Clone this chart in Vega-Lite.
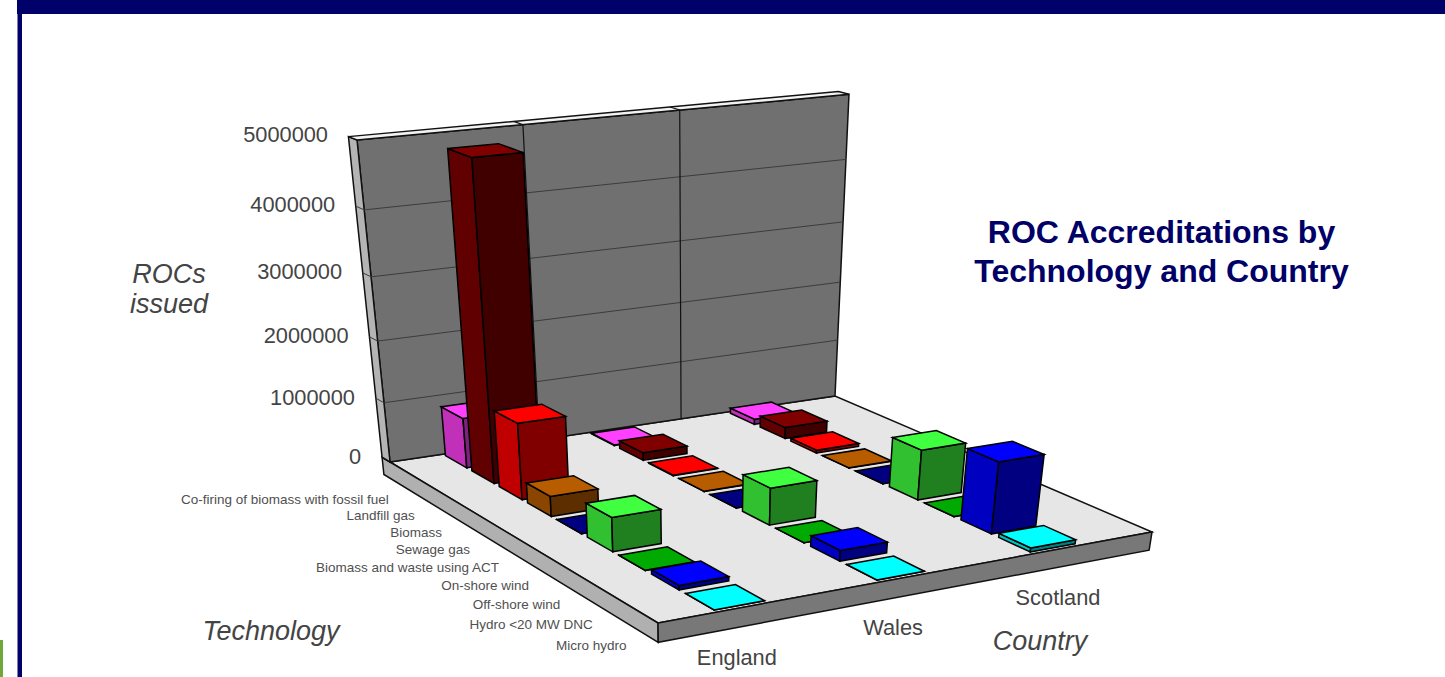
{
"$schema":"https://vega.github.io/schema/vega-lite/v6.json",
"width":1445,"height":677,"autosize":"none","padding":0,"background":"white",
"config":{"view":{"stroke":null}},
"title":{"text":["ROC Accreditations by","Technology and Country"],"font":"Liberation Sans","fontSize":32,"fontWeight":"bold","color":"#000066","anchor":"middle","frame":"group","dx":439,"dy":314,"lineHeight":39,"baseline":"alphabetic","offset":0},
"datasets":{
"bars":[
{"technology":"Co-firing of biomass with fossil fuel","country":"England","rocs":830000},
{"technology":"Co-firing of biomass with fossil fuel","country":"Wales","rocs":10000},
{"technology":"Co-firing of biomass with fossil fuel","country":"Scotland","rocs":90000},
{"technology":"Landfill gas","country":"England","rocs":4970000},
{"technology":"Landfill gas","country":"Wales","rocs":130000},
{"technology":"Landfill gas","country":"Scotland","rocs":190000},
{"technology":"Biomass","country":"England","rocs":1245000},
{"technology":"Biomass","country":"Wales","rocs":10000},
{"technology":"Biomass","country":"Scotland","rocs":50000},
{"technology":"Sewage gas","country":"England","rocs":328000},
{"technology":"Sewage gas","country":"Wales","rocs":5000},
{"technology":"Sewage gas","country":"Scotland","rocs":5000},
{"technology":"Biomass and waste using ACT","country":"England","rocs":2000},
{"technology":"Biomass and waste using ACT","country":"Wales","rocs":2000},
{"technology":"Biomass and waste using ACT","country":"Scotland","rocs":2000},
{"technology":"On-shore wind","country":"England","rocs":547000},
{"technology":"On-shore wind","country":"Wales","rocs":600000},
{"technology":"On-shore wind","country":"Scotland","rocs":820000},
{"technology":"Off-shore wind","country":"England","rocs":2000},
{"technology":"Off-shore wind","country":"Wales","rocs":2000},
{"technology":"Off-shore wind","country":"Scotland","rocs":2000},
{"technology":"Hydro <20 MW DNC","country":"England","rocs":70000},
{"technology":"Hydro <20 MW DNC","country":"Wales","rocs":170000},
{"technology":"Hydro <20 MW DNC","country":"Scotland","rocs":1150000},
{"technology":"Micro hydro","country":"England","rocs":3000},
{"technology":"Micro hydro","country":"Wales","rocs":3000},
{"technology":"Micro hydro","country":"Scotland","rocs":65000}
],
"surfaces":[{"surface":"floor"},{"surface":"slabLeft"},{"surface":"slabFront"},{"surface":"backWall"},{"surface":"wallEdge"},{"surface":"wallTop"}],
"valueTicks":[{"rocs":0},{"rocs":1000000},{"rocs":2000000},{"rocs":3000000},{"rocs":4000000},{"rocs":5000000}],
"countries":[{"country":"England"},{"country":"Wales"},{"country":"Scotland"}],
"technologies":[{"technology":"Co-firing of biomass with fossil fuel"},{"technology":"Landfill gas"},{"technology":"Biomass"},{"technology":"Sewage gas"},{"technology":"Biomass and waste using ACT"},{"technology":"On-shore wind"},{"technology":"Off-shore wind"},{"technology":"Hydro <20 MW DNC"},{"technology":"Micro hydro"}],
"axisTitles":[{"label":"Technology"},{"label":"Country"},{"label":"ROCs\nissued"}],
"frame":[{"part":"frame"}]
},
"layer":[
{"data":{"name":"frame"},"mark":{"type":"rect","color":"#00006b"},"encoding":{
"x":{"datum":17,"type":"quantitative","scale":{"domain":[0,1445],"range":[0,1445]},"axis":null},"x2":{"datum":1445},
"y":{"datum":0,"type":"quantitative","scale":{"domain":[0,677],"range":[0,677]},"axis":null},"y2":{"datum":14}}},
{"data":{"name":"frame"},"mark":{"type":"rect","color":"#00006b"},"encoding":{
"x":{"datum":17.5,"type":"quantitative","scale":{"domain":[0,1445],"range":[0,1445]},"axis":null},"x2":{"datum":22},
"y":{"datum":0,"type":"quantitative","scale":{"domain":[0,677],"range":[0,677]},"axis":null},"y2":{"datum":677}}},
{"data":{"name":"frame"},"mark":{"type":"rect","color":"#6fa83a"},"encoding":{
"x":{"datum":0,"type":"quantitative","scale":{"domain":[0,1445],"range":[0,1445]},"axis":null},"x2":{"datum":3},
"y":{"datum":640,"type":"quantitative","scale":{"domain":[0,677],"range":[0,677]},"axis":null},"y2":{"datum":677}}},
{"data":{"name":"surfaces"},
"transform":[
{"calculate":"[0,1,2,3]","as":"vertices"},{"flatten":["vertices"],"as":["vertex"]},
{"calculate":"{floor:[[0,0,0],[1,0,0],[1,1,0],[0,1,0]],backWall:[[0,0,0],[1,0,0],[1,0,1],[0,0,1]],wallEdge:[[0,-0.035,0],[0,0,0],[0,0,1],[0,-0.035,1]],wallTop:[[0,-0.035,1],[1,-0.035,1],[1,0,1],[0,0,1]],slabFront:[[0,1,0],[1,1,0],[1,1,-0.06],[0,1,-0.06]],slabLeft:[[0,-0.035,0],[0,1,0],[0,1,-0.06],[0,-0.035,-0.06]]}[datum.surface][datum.vertex]","as":"corner"},
{"calculate":"datum.corner[0]","as":"u"},{"calculate":"datum.corner[1]","as":"v"},{"calculate":"datum.corner[2]","as":"w"},
{"calculate":"1+0.08217*datum.u-0.15192*datum.v-0.09787*datum.w","as":"d"},
{"calculate":"(390+513.61*datum.u+168.04*datum.v-67.94*datum.w)/datum.d","as":"px"},
{"calculate":"(462-33.46*datum.u+66.35*datum.v-335.7*datum.w)/datum.d","as":"py"}
],
"mark":{"type":"line","interpolate":"linear-closed","stroke":"#111111","strokeWidth":1.5},
"encoding":{
"x":{"field":"px","type":"quantitative","scale":{"domain":[0,1445],"range":[0,1445]},"axis":null},
"y":{"field":"py","type":"quantitative","scale":{"domain":[0,677],"range":[0,677]},"axis":null},
"order":{"field":"vertex","type":"quantitative"},
"detail":{"field":"surface"},
"fill":{"field":"surface","type":"nominal","legend":null,"scale":{"domain":["floor","slabLeft","slabFront","backWall","wallEdge","wallTop"],"range":["#e6e6e6","#b0b0b0","#787878","#707070","#b4b4b4","#f2f2f2"]}}
}},
{"data":{"name":"valueTicks"},
"transform":[
{"filter":"datum.rocs>0 && datum.rocs<5000000"},
{"calculate":"[0,1,2]","as":"vertices"},{"flatten":["vertices"],"as":["vertex"]},
{"calculate":"datum.vertex==2?1:0","as":"u"},{"calculate":"datum.vertex==0?-0.035:0","as":"v"},{"calculate":"datum.rocs/5000000","as":"w"},
{"calculate":"1+0.08217*datum.u-0.15192*datum.v-0.09787*datum.w","as":"d"},
{"calculate":"(390+513.61*datum.u+168.04*datum.v-67.94*datum.w)/datum.d","as":"px"},
{"calculate":"(462-33.46*datum.u+66.35*datum.v-335.7*datum.w)/datum.d","as":"py"}
],
"mark":{"type":"line","stroke":"#3c3c3c","strokeWidth":1},
"encoding":{
"x":{"field":"px","type":"quantitative","scale":{"domain":[0,1445],"range":[0,1445]},"axis":null},
"y":{"field":"py","type":"quantitative","scale":{"domain":[0,677],"range":[0,677]},"axis":null},
"order":{"field":"vertex","type":"quantitative"},
"detail":{"field":"rocs"}
}},
{"data":{"name":"countries"},
"transform":[
{"filter":"datum.country!='Scotland'"},
{"calculate":"0.318*(indexof(['England','Wales','Scotland'],datum.country)+1)","as":"u"},
{"calculate":"[0,1,2]","as":"vertices"},{"flatten":["vertices"],"as":["vertex"]},
{"calculate":"datum.vertex==2?-0.035:0","as":"v"},{"calculate":"datum.vertex==0?0:1","as":"w"},
{"calculate":"1+0.08217*datum.u-0.15192*datum.v-0.09787*datum.w","as":"d"},
{"calculate":"(390+513.61*datum.u+168.04*datum.v-67.94*datum.w)/datum.d","as":"px"},
{"calculate":"(462-33.46*datum.u+66.35*datum.v-335.7*datum.w)/datum.d","as":"py"}
],
"mark":{"type":"line","stroke":"#111111","strokeWidth":1.2},
"encoding":{
"x":{"field":"px","type":"quantitative","scale":{"domain":[0,1445],"range":[0,1445]},"axis":null},
"y":{"field":"py","type":"quantitative","scale":{"domain":[0,677],"range":[0,677]},"axis":null},
"order":{"field":"vertex","type":"quantitative"},
"detail":{"field":"country"}
}},
{"data":{"name":"bars"},
"transform":[
{"calculate":"indexof(['Co-firing of biomass with fossil fuel','Landfill gas','Biomass','Sewage gas','Biomass and waste using ACT','On-shore wind','Off-shore wind','Hydro <20 MW DNC','Micro hydro'],datum.technology)","as":"techIndex"},
{"calculate":"indexof(['England','Wales','Scotland'],datum.country)","as":"countryIndex"},
{"calculate":"['left','front','top']","as":"faces"},{"flatten":["faces"],"as":["face"]},
{"calculate":"[0,1,2,3]","as":"vertices"},{"flatten":["vertices"],"as":["vertex"]},
{"calculate":"{left:[[-1,-1,0],[-1,1,0],[-1,1,1],[-1,-1,1]],front:[[-1,1,0],[1,1,0],[1,1,1],[-1,1,1]],top:[[-1,-1,1],[1,-1,1],[1,1,1],[-1,1,1]]}[datum.face][datum.vertex]","as":"corner"},
{"calculate":"0.159+0.3165*datum.countryIndex+0.048*datum.corner[0]","as":"u"},
{"calculate":"(datum.techIndex+0.5)/9+0.045*datum.corner[1]","as":"v"},
{"calculate":"datum.corner[2]*datum.rocs/5000000","as":"w"},
{"calculate":"datum.technology+'|'+datum.country+'|'+datum.face","as":"polygon"},
{"calculate":"datum.technology+'|'+datum.face","as":"faceKey"},
{"calculate":"1+0.08217*datum.u-0.15192*datum.v-0.09787*datum.w","as":"d"},
{"calculate":"(390+513.61*datum.u+168.04*datum.v-67.94*datum.w)/datum.d","as":"px"},
{"calculate":"(462-33.46*datum.u+66.35*datum.v-335.7*datum.w)/datum.d","as":"py"}
],
"mark":{"type":"line","interpolate":"linear-closed","stroke":"#000000","strokeWidth":1.5},
"encoding":{
"x":{"field":"px","type":"quantitative","scale":{"domain":[0,1445],"range":[0,1445]},"axis":null},
"y":{"field":"py","type":"quantitative","scale":{"domain":[0,677],"range":[0,677]},"axis":null},
"order":{"field":"vertex","type":"quantitative"},
"detail":{"field":"polygon"},
"fill":{"field":"faceKey","type":"nominal","legend":null,"scale":{
"domain":["Co-firing of biomass with fossil fuel|top","Co-firing of biomass with fossil fuel|left","Co-firing of biomass with fossil fuel|front","Landfill gas|top","Landfill gas|left","Landfill gas|front","Biomass|top","Biomass|left","Biomass|front","Sewage gas|top","Sewage gas|left","Sewage gas|front","Biomass and waste using ACT|top","Biomass and waste using ACT|left","Biomass and waste using ACT|front","On-shore wind|top","On-shore wind|left","On-shore wind|front","Off-shore wind|top","Off-shore wind|left","Off-shore wind|front","Hydro <20 MW DNC|top","Hydro <20 MW DNC|left","Hydro <20 MW DNC|front","Micro hydro|top","Micro hydro|left","Micro hydro|front"],
"range":["#ff40ff","#c030b8","#802080","#800000","#600000","#400000","#ff0000","#c00000","#800000","#b85c00","#8a4500","#5c2e00","#000080","#000060","#000040","#40ff40","#30c030","#208020","#00aa00","#008000","#005500","#0000ff","#0000c0","#000080","#00ffff","#00c0c0","#008080"]}}
}},
{"data":{"name":"valueTicks"},
"transform":[
{"calculate":"0","as":"u"},{"calculate":"0","as":"v"},{"calculate":"datum.rocs/5000000","as":"w"},
{"calculate":"1+0.08217*datum.u-0.15192*datum.v-0.09787*datum.w","as":"d"},
{"calculate":"(390+513.61*datum.u+168.04*datum.v-67.94*datum.w)/datum.d","as":"px"},
{"calculate":"(462-33.46*datum.u+66.35*datum.v-335.7*datum.w)/datum.d","as":"py"}
],
"mark":{"type":"text","font":"Liberation Sans","fontSize":21.8,"color":"#444444","align":"right","baseline":"middle","dx":-29,"dy":-5},
"encoding":{
"x":{"field":"px","type":"quantitative","scale":{"domain":[0,1445],"range":[0,1445]},"axis":null},
"y":{"field":"py","type":"quantitative","scale":{"domain":[0,677],"range":[0,677]},"axis":null},
"text":{"field":"rocs","type":"quantitative","format":"d"}
}},
{"data":{"name":"technologies"},
"transform":[
{"calculate":"indexof(['Co-firing of biomass with fossil fuel','Landfill gas','Biomass','Sewage gas','Biomass and waste using ACT','On-shore wind','Off-shore wind','Hydro <20 MW DNC','Micro hydro'],datum.technology)","as":"techIndex"},
{"calculate":"0","as":"u"},{"calculate":"(datum.techIndex+0.5)/9","as":"v"},{"calculate":"0","as":"w"},
{"calculate":"1+0.08217*datum.u-0.15192*datum.v-0.09787*datum.w","as":"d"},
{"calculate":"(390+513.61*datum.u+168.04*datum.v-67.94*datum.w)/datum.d","as":"px"},
{"calculate":"(462-33.46*datum.u+66.35*datum.v-335.7*datum.w)/datum.d+datum.techIndex*0.35","as":"py"}
],
"mark":{"type":"text","font":"Liberation Sans","fontSize":13.5,"color":"#505050","align":"right","baseline":"middle","dx":-14,"dy":30.5},
"encoding":{
"x":{"field":"px","type":"quantitative","scale":{"domain":[0,1445],"range":[0,1445]},"axis":null},
"y":{"field":"py","type":"quantitative","scale":{"domain":[0,677],"range":[0,677]},"axis":null},
"text":{"field":"technology","type":"nominal"}
}},
{"data":{"name":"countries"},
"transform":[
{"calculate":"indexof(['England','Wales','Scotland'],datum.country)","as":"countryIndex"},
{"calculate":"0.159+0.318*datum.countryIndex","as":"u"},{"calculate":"1","as":"v"},{"calculate":"0","as":"w"},
{"calculate":"1+0.08217*datum.u-0.15192*datum.v-0.09787*datum.w","as":"d"},
{"calculate":"(390+513.61*datum.u+168.04*datum.v-67.94*datum.w)/datum.d+[-6,-12,0][datum.countryIndex]","as":"px"},
{"calculate":"(462-33.46*datum.u+66.35*datum.v-335.7*datum.w)/datum.d+[51,51,49][datum.countryIndex]","as":"py"}
],
"mark":{"type":"text","font":"Liberation Sans","fontSize":21.8,"color":"#444444","align":"center","baseline":"middle"},
"encoding":{
"x":{"field":"px","type":"quantitative","scale":{"domain":[0,1445],"range":[0,1445]},"axis":null},
"y":{"field":"py","type":"quantitative","scale":{"domain":[0,677],"range":[0,677]},"axis":null},
"text":{"field":"country","type":"nominal"}
}},
{"data":{"name":"axisTitles"},
"transform":[
{"calculate":"indexof(['Technology','Country','ROCs\\nissued'],datum.label)","as":"titleIndex"},
{"calculate":"[0,1,0][datum.titleIndex]","as":"u"},{"calculate":"[1,1,0][datum.titleIndex]","as":"v"},{"calculate":"[0,0,0.6][datum.titleIndex]","as":"w"},
{"calculate":"1+0.08217*datum.u-0.15192*datum.v-0.09787*datum.w","as":"d"},
{"calculate":"(390+513.61*datum.u+168.04*datum.v-67.94*datum.w)/datum.d+[-387,-112,-202][datum.titleIndex]","as":"px"},
{"calculate":"(462-33.46*datum.u+66.35*datum.v-335.7*datum.w)/datum.d+[9,110,-2][datum.titleIndex]","as":"py"}
],
"mark":{"type":"text","font":"Liberation Sans","fontSize":27,"fontStyle":"italic","color":"#444444","align":"center","baseline":"middle","lineBreak":"\n","lineHeight":30},
"encoding":{
"x":{"field":"px","type":"quantitative","scale":{"domain":[0,1445],"range":[0,1445]},"axis":null},
"y":{"field":"py","type":"quantitative","scale":{"domain":[0,677],"range":[0,677]},"axis":null},
"text":{"field":"label","type":"nominal"}
}}
],
"resolve":{"scale":{"fill":"independent"}}
}
